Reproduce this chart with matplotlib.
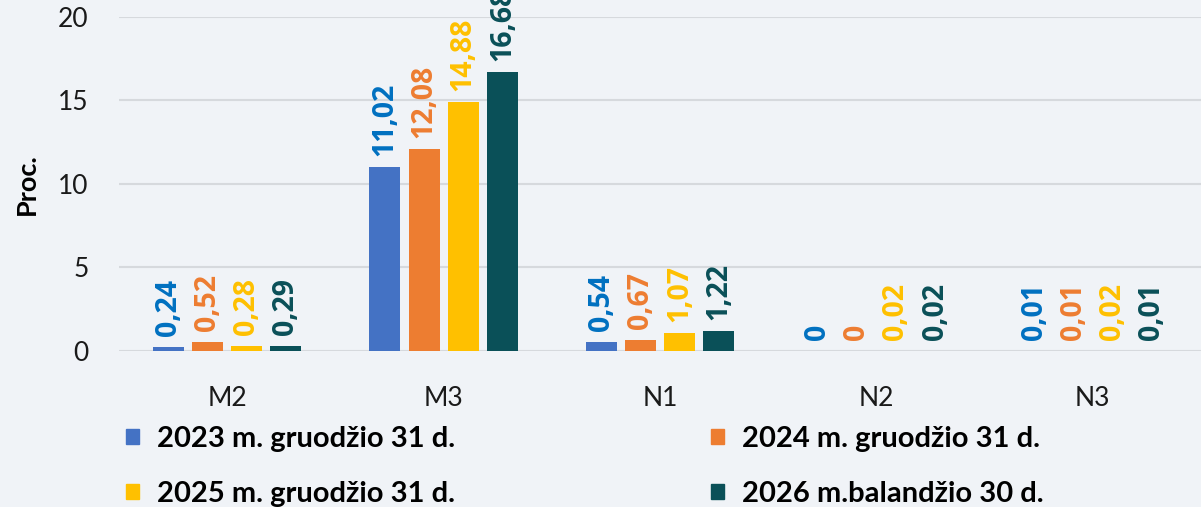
import matplotlib.pyplot as plt
import numpy as np
from matplotlib.patches import Patch

categories = ["M2", "M3", "N1", "N2", "N3"]
series_names = [
    "2023 m. gruodžio 31 d.",
    "2024 m. gruodžio 31 d.",
    "2025 m. gruodžio 31 d.",
    "2026 m.balandžio 30 d.",
]
v2023 = [0.24, 11.02, 0.54, 0.00, 0.01]
v2024 = [0.52, 12.08, 0.67, 0.00, 0.01]
v2025 = [0.28, 14.88, 1.07, 0.02, 0.02]
v2026 = [0.29, 16.68, 1.22, 0.02, 0.01]
y_ticks = [0, 5, 10, 15, 20]

series = [v2023, v2024, v2025, v2026]
bar_colors = ["#4472C4", "#ED7D31", "#FFC000", "#0A5058"]
label_colors = ["#0070C0", "#ED7D31", "#FFC000", "#0A5058"]
bg = "#F0F3F7"

fig = plt.figure(figsize=(12.01, 5.07), dpi=100, facecolor=bg)
ax = fig.add_axes([0.0991, 0.3077, 0.9009, 0.6588], facecolor=bg)

x = np.arange(len(categories))
step = 0.181
width = 0.143
for i, (vals, col, lcol) in enumerate(zip(series, bar_colors, label_colors)):
    pos = x + (i - 1.5) * step
    ax.bar(pos, vals, width=width, color=col, zorder=3)
    for px, v in zip(pos, vals):
        txt = "0" if v == 0 else f"{v:.2f}".replace(".", ",")
        ax.annotate(txt, (px, v), xytext=(0, 8), textcoords="offset points",
                    rotation=90, ha="center", va="bottom", color=lcol,
                    fontsize=20.5, fontweight="bold", family="Open Sans",
                    annotation_clip=False)

ax.set_xlim(-0.5, 4.5)
ax.set_ylim(0, 20)
ax.set_yticks(y_ticks)
ax.set_xticks(x)
ax.set_xticklabels(categories)
ax.tick_params(axis="both", length=0, labelsize=19, colors="#1a1a1a")
ax.tick_params(axis="x", pad=25)
ax.tick_params(axis="y", pad=22)
for lab in ax.get_xticklabels() + ax.get_yticklabels():
    lab.set_family("Lato")
ax.grid(axis="y", color="#D6D9DD", linewidth=1.5, zorder=0)
for s in ax.spines.values():
    s.set_visible(False)
ax.set_ylabel("Proc.", fontsize=19.5, fontweight="bold", family="Lato", labelpad=14)

# two legend columns placed separately
for j, anchor_x in enumerate([0.105, 0.592]):
    idx = [j, j + 2]
    handles = [Patch(color=bar_colors[k]) for k in idx]
    fig.legend(handles, [series_names[k] for k in idx], loc="upper left",
               bbox_to_anchor=(anchor_x, 0.16), frameon=False,
               prop={"family": "Lato", "weight": "bold", "size": 21},
               handlelength=0.45, handleheight=0.45, handletextpad=0.6,
               labelspacing=1.0, borderaxespad=0, borderpad=0)

fig.savefig("out.png", dpi=100, facecolor=bg)
